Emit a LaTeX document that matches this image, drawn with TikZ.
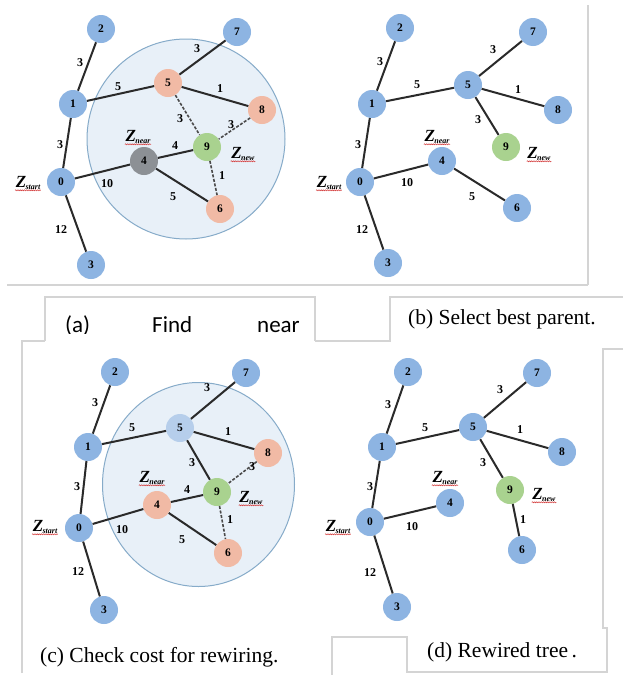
\documentclass[tikz,border=0pt]{standalone}
\usepackage{fontspec}
\setmainfont{Liberation Serif}
\newfontfamily\tnr{Liberation Serif}
\newfontfamily\capsans{Carlito}
\usetikzlibrary{decorations.pathmorphing}

\definecolor{nblue}{HTML}{8DB4E2}
\definecolor{nlight}{HTML}{B6CEEB}
\definecolor{nsalmon}{HTML}{F1BAA5}
\definecolor{ngreen}{HTML}{A9D28F}
\definecolor{ngray}{HTML}{8C9095}
\definecolor{edgecol}{HTML}{2A2A2A}
\definecolor{zonefill}{HTML}{E8F0F8}
\definecolor{zoneline}{HTML}{86ABC9}
\definecolor{framecol}{HTML}{D4D4D4}
\definecolor{spellred}{HTML}{D64545}

% Z with a subscript, as used for the special vertices
\newcommand\zlab[1]{\textbf{\textit{Z}}\kern-0.6pt\raisebox{-2pt}{\fontsize{8}{8}\selectfont\bfseries\itshape #1}}

\tikzset{
  vtx/.style={circle, minimum size=28pt, inner sep=0pt,
    font=\tnr\bfseries\fontsize{11.5}{11.5}\selectfont},
  bn/.style={vtx, fill=nblue},
  ln/.style={vtx, fill=nlight},
  sn/.style={vtx, fill=nsalmon},
  gn/.style={vtx, fill=ngreen},
  kn/.style={vtx, fill=ngray},
  edge/.style={draw=edgecol, line width=2pt},
  dedge/.style={draw=edgecol!85, line width=1.6pt, dash pattern=on 3pt off 1.6pt},
  wl/.style={inner sep=0pt, font=\tnr\bfseries\fontsize{12}{12}\selectfont},
  zl/.style={inner sep=0.5pt, font=\tnr\fontsize{17}{17}\selectfont},
  spell/.style={draw=spellred, line width=0.6pt, decorate,
    decoration={snake, amplitude=0.5pt, segment length=2.2pt}},
  zone/.style={fill=zonefill, draw=zoneline, line width=1pt},
  frame/.style={draw=framecol, line width=1.2pt},
  capt/.style={inner sep=0pt, anchor=base west, font=\tnr\fontsize{21.5}{21.5}\selectfont},
  capa/.style={inner sep=0pt, anchor=base west, font=\capsans\fontsize{23}{23}\selectfont}
}

\begin{document}
\begin{tikzpicture}[x=1pt, y=-1pt]
\useasboundingbox (0,0) rectangle (623,675);
\fill[white] (0,0) rectangle (623,675);

% ---------- frames of the four panels ----------
\draw[frame] (588,5) -- (588,285);
\draw[frame] (7,285) -- (588,285);
\draw[frame] (45,341) -- (45,297) -- (315,297) -- (315,341);
\draw[frame] (22,673) -- (22,341) -- (45,341);
\draw[frame] (315,341) -- (390,341) -- (390,297) -- (623,297);
\draw[frame] (623,349) -- (603,349) -- (603,628) -- (607,628) -- (607,672)
  -- (407,672) -- (407,637) -- (332,637) -- (332,675);

% ---------- (a) find near vertices ----------
\draw[zone] (186,139) ellipse [x radius=99, y radius=100];
\node[bn] (a0) at (61,182) {0};
\node[bn] (a1) at (73,104) {1};
\node[bn] (a2) at (101,29) {2};
\node[bn] (a3) at (91,265) {3};
\node[kn] (a4) at (144,161) {4};
\node[sn] (a5) at (168,83) {5};
\node[sn] (a6) at (220,209) {6};
\node[bn] (a7) at (237,32) {7};
\node[sn] (a8) at (262,110) {8};
\node[gn] (a9) at (207,147) {9};
\draw[edge] (a2) -- (a1);
\draw[edge] (a1) -- (a0);
\draw[edge] (a0) -- (a3);
\draw[edge] (a1) -- (a5);
\draw[edge] (a5) -- (a7);
\draw[edge] (a5) -- (a8);
\draw[edge] (a0) -- (a4);
\draw[edge] (a4) -- (a9);
\draw[edge] (a4) -- (a6);
\draw[dedge] (a5) -- (a9);
\draw[dedge] (a8) -- (a9);
\draw[dedge] (a9) -- (a6);
\node[wl] (aw21) at (80,63) {3};
\node[wl] (aw10) at (60,145) {3};
\node[wl] (aw03) at (61,230) {12};
\node[wl] (aw15) at (118,87) {5};
\node[wl] (aw57) at (197,49) {3};
\node[wl] (aw58) at (220,89) {1};
\node[wl] (aw59) at (180,119) {3};
\node[wl] (aw89) at (231,125) {3};
\node[wl] (aw49) at (175,146) {4};
\node[wl] (aw04) at (107,184) {10};
\node[wl] (aw46) at (173,197) {5};
\node[wl] (aw96) at (222,176) {1};
\node[zl] (azs) at (28,183) {\zlab{start}};
\node[zl] (azn) at (138,137) {\zlab{near}};
\node[zl] (azw) at (243,154) {\zlab{new}};
\foreach \z in {azs,azn,azw}
  \draw[spell] (\z.south west) -- (\z.south east);

% ---------- (b) select best parent ----------
\node[bn] (b0) at (360,182) {0};
\node[bn] (b1) at (372,104) {1};
\node[bn] (b2) at (400,28) {2};
\node[bn] (b3) at (388,263) {3};
\node[bn] (b4) at (442,161) {4};
\node[bn] (b5) at (468,85) {5};
\node[bn] (b6) at (517,208) {6};
\node[bn] (b7) at (533,32) {7};
\node[bn] (b8) at (558,110) {8};
\node[gn] (b9) at (506,147) {9};
\draw[edge] (b2) -- (b1);
\draw[edge] (b1) -- (b0);
\draw[edge] (b0) -- (b3);
\draw[edge] (b1) -- (b5);
\draw[edge] (b5) -- (b7);
\draw[edge] (b5) -- (b8);
\draw[edge] (b5) -- (b9);
\draw[edge] (b0) -- (b4);
\draw[edge] (b4) -- (b6);
\node[wl] (bw21) at (380,62) {3};
\node[wl] (bw10) at (358,145) {3};
\node[wl] (bw03) at (362,230) {12};
\node[wl] (bw15) at (417,85) {5};
\node[wl] (bw57) at (493,50) {3};
\node[wl] (bw58) at (518,90) {1};
\node[wl] (bw59) at (478,120) {3};
\node[wl] (bw04) at (407,183) {10};
\node[wl] (bw46) at (472,197) {5};
\node[zl] (bzs) at (329,183) {\zlab{start}};
\node[zl] (bzn) at (437,137) {\zlab{near}};
\node[zl] (bzw) at (539,154) {\zlab{new}};
\foreach \z in {bzs,bzn,bzw}
  \draw[spell] (\z.south west) -- (\z.south east);

% ---------- (c) check cost for rewiring ----------
\draw[zone] (198.5,484.5) ellipse [x radius=96, y radius=102];
\node[bn] (c0) at (79,528) {0};
\node[bn] (c1) at (88,447) {1};
\node[bn] (c2) at (115,372) {2};
\node[bn] (c3) at (104,610) {3};
\node[sn] (c4) at (157,505) {4};
\node[ln] (c5) at (180,428) {5};
\node[sn] (c6) at (228,553) {6};
\node[bn] (c7) at (246,373) {7};
\node[sn] (c8) at (268,453) {8};
\node[gn] (c9) at (217,492) {9};
\draw[edge] (c2) -- (c1);
\draw[edge] (c1) -- (c0);
\draw[edge] (c0) -- (c3);
\draw[edge] (c1) -- (c5);
\draw[edge] (c5) -- (c7);
\draw[edge] (c5) -- (c8);
\draw[edge] (c5) -- (c9);
\draw[edge] (c0) -- (c4);
\draw[edge] (c4) -- (c9);
\draw[edge] (c4) -- (c6);
\draw[dedge] (c8) -- (c9);
\draw[dedge] (c9) -- (c6);
\node[wl] (cw21) at (95,403) {3};
\node[wl] (cw10) at (77,487) {3};
\node[wl] (cw03) at (78,572) {12};
\node[wl] (cw15) at (132,428) {5};
\node[wl] (cw57) at (207,388) {3};
\node[wl] (cw58) at (228,432) {1};
\node[wl] (cw59) at (192,463) {3};
\node[wl] (cw89) at (252,467) {3};
\node[wl] (cw49) at (187,490) {4};
\node[wl] (cw04) at (122,530) {10};
\node[wl] (cw46) at (182,540) {5};
\node[wl] (cw96) at (230,520) {1};
\node[zl] (czs) at (45,527) {\zlab{start}};
\node[zl] (czn) at (152,478) {\zlab{near}};
\node[zl] (czw) at (251,498) {\zlab{new}};
\foreach \z in {czs,czn,czw}
  \draw[spell] (\z.south west) -- (\z.south east);

% ---------- (d) rewired tree ----------
\node[bn] (d0) at (370,522) {0};
\node[bn] (d1) at (382,447) {1};
\node[bn] (d2) at (408,372) {2};
\node[bn] (d3) at (397,607) {3};
\node[bn] (d4) at (450,503) {4};
\node[bn] (d5) at (473,427) {5};
\node[bn] (d6) at (522,550) {6};
\node[bn] (d7) at (537,373) {7};
\node[bn] (d8) at (562,452) {8};
\node[gn] (d9) at (510,490) {9};
\draw[edge] (d2) -- (d1);
\draw[edge] (d1) -- (d0);
\draw[edge] (d0) -- (d3);
\draw[edge] (d1) -- (d5);
\draw[edge] (d5) -- (d7);
\draw[edge] (d5) -- (d8);
\draw[edge] (d5) -- (d9);
\draw[edge] (d9) -- (d6);
\draw[edge] (d0) -- (d4);
\node[wl] (dw21) at (388,405) {3};
\node[wl] (dw10) at (370,487) {3};
\node[wl] (dw03) at (370,573) {12};
\node[wl] (dw15) at (425,428) {5};
\node[wl] (dw57) at (500,390) {3};
\node[wl] (dw58) at (520,430) {1};
\node[wl] (dw59) at (483,463) {3};
\node[wl] (dw04) at (412,527) {10};
\node[wl] (dw96) at (523,520) {1};
\node[zl] (dzs) at (338,527) {\zlab{start}};
\node[zl] (dzn) at (445,478) {\zlab{near}};
\node[zl] (dzw) at (544,495) {\zlab{new}};
\foreach \z in {dzs,dzn,dzw}
  \draw[spell] (\z.south west) -- (\z.south east);

% ---------- captions ----------
\begin{scope}
  \clip (45,297) rectangle (315,333);
  \node[capa] (capa1) at (65,332) {(a)};
  \node[capa] (capa2) at (152,332) {Find};
  \node[capa] (capa3) at (257,332) {near};
\end{scope}
\node[capt] (capb) at (408,324) {(b) Select best parent.};
\node[capt] (capc) at (40,662) {(c) Check cost for rewiring.};
\node[capt] (capd) at (427,657) {(d) Rewired tree\,.};
\end{tikzpicture}
\end{document}
